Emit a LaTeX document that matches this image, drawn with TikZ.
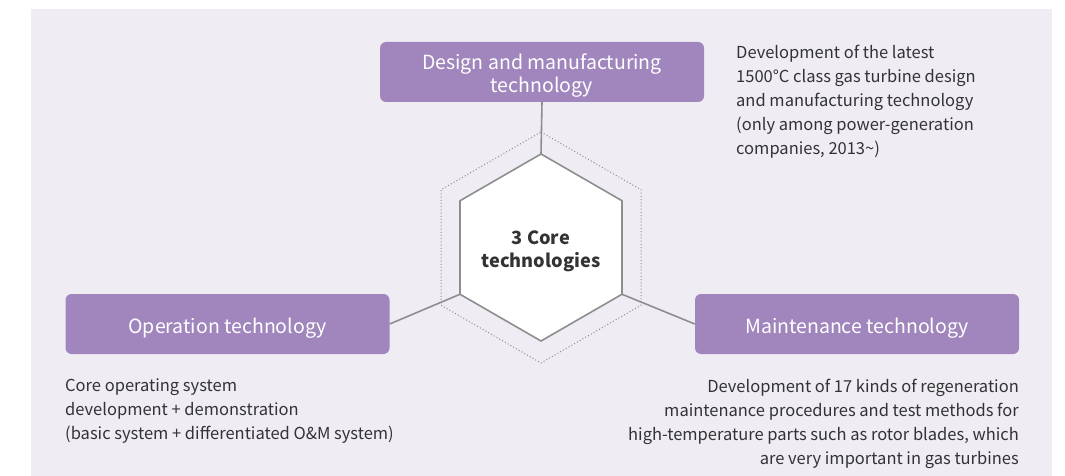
\documentclass[tikz,border=0pt]{standalone}
\usepackage{fontspec}
\setmainfont{Noto Sans CJK KR}
\definecolor{bgc}{HTML}{EFECF4}
\definecolor{boxc}{HTML}{A086BD}
\definecolor{linec}{HTML}{8E8E8E}
\definecolor{txtc}{HTML}{333333}
\tikzset{
  techbox/.style={fill=boxc, rounded corners=6pt, minimum width=324pt, minimum height=60pt, inner sep=0pt},
  boxlabel/.style={text=white, align=center, inner sep=0pt, font=\fontsize{19.5}{23}\selectfont},
  desc/.style={text=txtc, inner sep=0pt, font=\fontsize{16.5}{24}\selectfont},
  hexline/.style={draw=linec, line width=1.6pt, line join=miter},
  dotline/.style={draw=linec, line width=1pt, dash pattern=on 1pt off 2.2pt},
  conn/.style={draw=linec, line width=1.6pt}
}
\begin{document}
\begin{tikzpicture}[x=1pt,y=-1pt]
\useasboundingbox (0,0) rectangle (1065,476);
\fill[bgc] (31,9) rectangle (1052,476);
% outer dotted hexagon
\draw[dotline] (541,132) -- (641,189.75) -- (641,305.25) -- (541,363) -- (441,305.25) -- (441,189.75) -- cycle;
% inner hexagon vertices
\coordinate (vt) at (541,154);
\coordinate (vur) at (622,200.75);
\coordinate (vlr) at (622,294.25);
\coordinate (vb) at (541,341);
\coordinate (vll) at (460,294.25);
\coordinate (vul) at (460,200.75);
\filldraw[hexline, fill=white] (vt) -- (vur) -- (vlr) -- (vb) -- (vll) -- (vul) -- cycle;
\node[text=txtc, align=center, font=\fontsize{18.2}{23}\selectfont\bfseries] (core) at (541,251) {3 Core\\technologies};
% boxes
\node[techbox] (design) at (542,72) {};
\node[techbox] (oper) at (227.5,324) {};
\node[techbox] (maint) at (857,324) {};
\node[boxlabel] (designL) at ([yshift=-4pt]design.center) {Design and manufacturing\\technology};
\node[boxlabel] (operL) at ([yshift=-4pt]oper.center) {Operation technology};
\node[boxlabel] (maintL) at ([yshift=-4pt]maint.center) {Maintenance technology};
% connectors
\draw[conn] (vt) -- (design.south);
\draw[conn] (vll) -- (oper.east);
\draw[conn] (vlr) -- (maint.west);
% descriptions
\node[desc, anchor=north west, align=left] (ddesign) at (736,45) {Development of the latest\\1500°C class gas turbine design\\and manufacturing technology\\(only among power-generation\\companies, 2013\textasciitilde)};
\node[desc, anchor=north west, align=left] (doper) at (65,379) {Core operating system\\development + demonstration\\(basic system + differentiated O\&M system)};
\node[desc, anchor=north east, align=right] (dmaint) at (1019,379) {Development of 17 kinds of regeneration\\maintenance procedures and test methods for\\high-temperature parts such as rotor blades, which\\are very important in gas turbines};
\end{tikzpicture}
\end{document}
